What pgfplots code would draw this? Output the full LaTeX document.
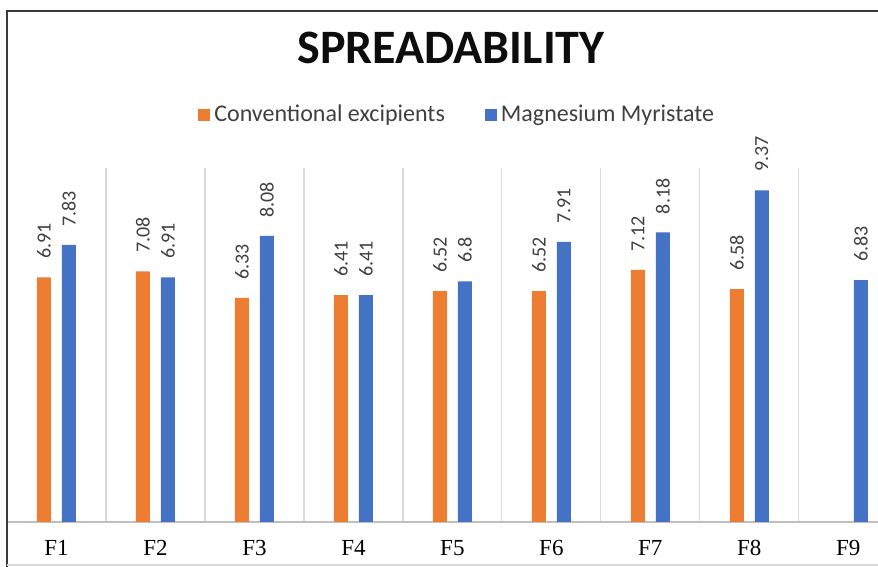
\documentclass[border=0pt]{standalone}
\usepackage{fontspec}
\setmainfont{Carlito}
\newfontfamily\tnr{Liberation Serif}
\usepackage{pgfplots}
\pgfplotsset{compat=1.18}
\definecolor{corange}{HTML}{ED7D31}
\definecolor{cblue}{HTML}{4472C4}
\definecolor{gridgray}{HTML}{D9D9D9}
\definecolor{axgray}{HTML}{BFBFBF}
\definecolor{txtgray}{HTML}{404040}
\definecolor{framegray}{HTML}{3A3A3A}
\begin{document}
\begin{tikzpicture}[x=0.5pt,y=0.5pt]
\useasboundingbox (0,0) rectangle (878,567);
\fill[white] (0,0) rectangle (878,567);
\begin{axis}[
  at={(3.5pt,22.5pt)}, anchor=south west, scale only axis,
  width=435.5pt, height=177pt,
  xmin=-0.5, xmax=8.3, ymin=0, ymax=10,
  axis x line*=bottom, axis y line=none,
  x axis line style={color=axgray, line width=0.6pt, -},
  ytick=\empty,
  xtick={0,...,8},
  xticklabels={F1,F2,F3,F4,F5,F6,F7,F8,F9},
  xticklabel style={font=\tnr\fontsize{11.5}{13}\selectfont, text=black, anchor=north, yshift=-5.5pt},
  major tick length=0pt, minor tick length=0pt,
  minor xtick={-0.5,0.5,...,7.5},
  xminorgrids, minor grid style={color=gridgray, line width=0.6pt},
  clip=false,
  ybar, bar width=7pt,
  /pgf/number format/assume math mode=true,
  nodes near coords,
  nodes near coords style={font=\fontsize{10}{12}\selectfont, text=txtgray, yshift=9pt, rotate=90, anchor=west, inner sep=0pt},
  legend columns=2,
  legend style={at={(axis description cs:0.518,1.15)}, anchor=center, draw=none, fill=none,
    font=\fontsize{12}{14}\selectfont, text=txtgray,
    /tikz/every even column/.append style={column sep=18pt}},
  legend image code/.code={\fill[#1, draw=none] (0pt,-3pt) rectangle (6pt,3pt);},
]
\addplot[fill=corange, draw=none, bar shift=-6.25pt] coordinates {
  (0,6.91) (1,7.08) (2,6.33) (3,6.41) (4,6.52) (5,6.52) (6,7.12) (7,6.58)};
\addplot[fill=cblue, draw=none, bar shift=6.25pt] coordinates {
  (0,7.83) (1,6.91) (2,8.08) (3,6.41) (4,6.8) (5,7.91) (6,8.18) (7,9.37) (8,6.83)};
\legend{Conventional excipients, Magnesium Myristate}
\end{axis}
\node[font=\fontsize{24}{28}\selectfont\bfseries, text=black!95] at (451,519) {SPREADABILITY};
\draw[framegray, line width=1pt] (7,0) -- (7,556) -- (878,556);
\draw[gridgray, line width=0.6pt] (7,2) -- (878,2);
\end{tikzpicture}
\end{document}
